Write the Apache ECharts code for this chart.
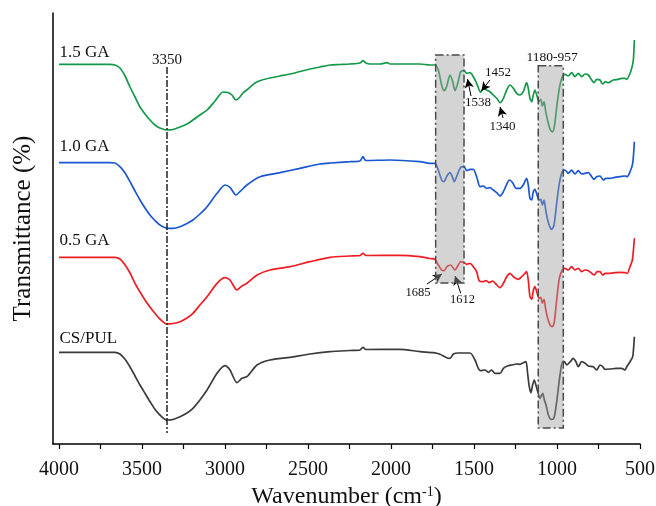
<!DOCTYPE html>
<html>
<head>
<meta charset="utf-8">
<script src="https://cdn.jsdelivr.net/npm/echarts@6/dist/echarts.min.js"></script>
<style>
  html, body { margin: 0; padding: 0; background: #fff; }
  #chart { width: 656px; height: 506px; }
</style>
</head>
<body>
<div id="chart"></div>
<script>
// FTIR spectra, wavenumber (cm-1) vs transmittance (offset, arbitrary units)
var wnCS = [4000,3663,3633,3602,3572,3542,3512,3482,3452,3422,3392,3350,3313,3271,3229,3193,3151,3108,3048,3000,
    2970,2928,2898,2868,2807,2729,2608,2488,2367,2247,2187,2169,2151,1946,1825,
    1745,1705,1665,1645,1624,1594,1524,1494,1474,1460,1434,1414,1394,1374,1343,1323,1299,1273,1243,1223,
    1203,1187,1177,1167,1157,1147,1137,1127,1116,1102,1086,1076,1066,1052,1036,1022,1012,998,982,966,
    956,941,920,902,886,872,851,831,811,781,761,741,725,711,681,641,611,590,580,560,544,534];
var tCS = [91.7,91.7,90,84.7,77,68,59,50.7,42.5,34.7,29,24,24.5,27.3,31,35.7,44,54,70.7,78.3,
    74,61.3,65.7,67.3,79,84,86.7,90,92.3,93.5,94,96.7,94.5,94.7,92.3,
    91.3,89.7,86.3,85.7,90,91,91,84,75.7,73.3,74,71.7,74,70.7,70.7,75.7,78,79,80,79.7,
    81.3,82.3,70.7,57.3,51.3,59,64,59,52.3,45.7,50.7,44,39,29,24.7,25,30.7,47.3,69,82.3,
    82.3,79,82.3,85.7,82.3,77.3,82.3,80.7,78,77.3,74,79,77.3,74.7,75,75.7,75.7,74,77.3,82.3,87.3,107.3];

var wn05 = [4000,3663,3633,3602,3572,3542,3512,3482,3452,3422,3392,3350,3313,3271,3229,3193,3151,3108,3048,3000,
    2970,2928,2898,2868,2807,2729,2608,2488,2367,2247,2187,2169,2151,1946,1825,1765,
    1735,1715,1695,1681,1663,1641,1624,1614,1598,1580,1560,1544,1524,1504,1484,1469,1448,1428,1408,1388,
    1368,1343,1323,1303,1283,1259,1233,1213,1193,1183,1173,1163,1152,1143,1133,1122,1108,1098,1088,1078,
    1068,1056,1042,1028,1016,1002,986,968,952,932,912,892,872,851,831,811,791,777,757,741,
    725,709,681,651,620,590,577,560,546,534];
var t05 = [186.7,186.7,185,179,171,160.7,152,144,137,130.7,125,120,120.5,122.3,126,130.7,139,147.3,160.7,166.3,
    164,154,158,160.7,169,174,177.3,182.3,186.7,188,188.5,190.7,188.5,188.7,187.3,185.5,
    184.7,179,174,173.3,177.3,179,175.7,174,178,182.3,181.3,179.7,180.7,177.3,172.3,163.3,162.3,163.3,161.3,163,
    160,156.3,160.7,167.3,170.7,166.7,164.7,167.3,170.7,172.3,164,147.3,144.7,153.3,157.3,152.3,145.7,146.7,140.7,144.7,
    134.7,125.7,119,117.3,122.3,144,165.7,174,175.7,174,177.3,174,175.7,172.3,174,173.3,170.7,169,172.3,172.3,
    169,170.7,170.7,171.3,171.7,171.3,170.7,177.3,184,205.7];

var wn10 = [4000,3693,3663,3633,3602,3572,3542,3512,3482,3452,3422,3392,3343,3313,3271,3229,3193,3151,3108,3048,
    3000,2970,2934,2910,2868,2789,2669,2548,2428,2367,2247,2187,2169,2151,2006,1825,1765,
    1735,1715,1695,1681,1663,1645,1631,1619,1601,1580,1560,1544,1524,1504,1484,1464,1444,1424,1404,1384,
    1363,1343,1323,1303,1287,1267,1247,1223,1203,1183,1173,1163,1152,1143,1133,1122,1108,1098,1088,1078,
    1068,1056,1042,1032,1018,1002,986,968,952,932,912,892,872,851,831,811,791,777,761,741,
    721,705,681,651,620,590,577,560,544,534];
var t10 = [281.3,281.3,281,277.3,271,262.3,253,244,236,229,223.5,219,215.7,215.7,217.3,220.5,224,230,237.3,250.7,
    259,256.7,249,252.3,259,267.3,271.3,275.7,280,281,282.3,283,287.3,283.5,284,282.3,280.7,
    280.7,274,264,262.3,268,271.3,267.3,262.3,269,276.7,277.3,273.3,274.7,274.7,267.3,257.3,258,255.7,256.3,254,
    251.3,248,252.3,259.7,264,261.3,255.7,255.7,259,265.7,259,245.7,244,252.3,254.7,250,244,244.7,239,244,
    234,224,216.7,214.7,219,240.7,260.7,272.3,274,270.7,274,270,273.3,270,270.7,271.3,267.3,264.7,267.3,268,
    264,265.7,265.7,266.7,267.3,268,267.3,272.3,280.7,302.3];

var wn15 = [4000,3693,3663,3633,3602,3572,3542,3512,3482,3452,3422,3392,3350,3313,3271,3229,3193,3151,3108,3060,
    3012,2982,2958,2934,2910,2892,2861,2819,2777,2729,2669,2608,2548,2488,2428,2367,2307,2247,2187,2169,
    2151,2126,2066,2024,2006,1946,1886,1825,1765,
    1735,1715,1695,1681,1665,1645,1631,1614,1598,1580,1560,1544,1524,1504,1484,1460,1444,1424,1404,1384,
    1363,1343,1323,1303,1283,1263,1243,1223,1203,1183,1173,1163,1152,1143,1133,1122,1108,1098,1088,1078,
    1068,1056,1042,1028,1016,1002,986,968,952,932,912,892,872,851,831,811,791,777,761,741,
    725,709,691,661,631,611,590,580,564,550,540,534];
var t15 = [379.7,379.7,379,376,368,357,347,337,330,324,319,316,314,314.5,317,320,324,329,334,343,
    352,351.5,349,344,347,351,355,361,364,366,368,370,372.5,375,377,379,379.5,380,381,383.3,
    381,380,380,381.3,380,380,380,380,379,
    379,374,359,353.3,357.3,369,364,353.3,360.7,372.3,373.3,370.7,371.3,367.3,360.7,351.7,355.7,354,352.3,349,
    345.7,341.3,345.7,354,359,355.7,350.7,349,352.3,361.3,355.7,345.7,342.3,349,354,349,342.3,344.7,338,342.3,
    332.3,323.3,314.7,312,317.3,336.7,355.7,367.3,369.7,368,371.3,367.3,370.7,367.3,370,369,364,361.3,364.7,364,
    360,362.3,361.3,364,364.7,365.7,365.7,364.7,369,375.7,384,404];

var sampleNames = ['CS/PUL', '0.5 GA', '1.0 GA', '1.5 GA'];
var tickLabels = [4000, 3500, 3000, 2500, 2000, 1500, 1000, 500];
var tickMarks = [4000, 3750, 3500, 3250, 3000, 2750, 2500, 2250, 2000, 1750, 1500, 1250, 1000, 750, 500];

// annotations (in data coordinates)
var nameSpots = [[4000, 105], [4000, 203], [4000, 297], [4000, 391]];
var peakLabels = [
    {text: '3350', at: [3350, 384], size: 15},
    {text: '1452', at: [1355, 371], size: 13},
    {text: '1538', at: [1476, 341], size: 13},
    {text: '1340', at: [1328, 317], size: 13},
    {text: '1180-957', at: [1030, 386.5], size: 13.5},
    {text: '1685', at: [1837, 151.5], size: 12.5},
    {text: '1612', at: [1569, 144], size: 12.5}
];
var arrows = [
    [[1404, 364], [1455, 353]],
    [[1518, 348], [1539, 365]],
    [[1325, 326], [1343, 337]],
    [[1783, 160], [1693, 170]],
    [[1580, 150.7], [1614, 168]]
];
var boxes = [
    [[1731, 389], [1560, 161]],
    [[1113, 378.3], [962, 16]]
];
var guide3350 = [[3350, 377], [3350, 11]];

var serif = "'Liberation Serif', 'Times New Roman', serif";
var colors = ['#3b3b3b', '#ee1d24', '#1a56d2', '#14994a'];
var wnList = [wnCS, wn05, wn10, wn15];
var tList = [tCS, t05, t10, t15];

function pairs(xs, ys) {
    return xs.map(function (x, i) { return [x, ys[i]]; });
}

var series = sampleNames.map(function (name, k) {
    return {
        name: name,
        type: 'line',
        data: pairs(wnList[k], tList[k]),
        showSymbol: false,
        smooth: 0.25,
        z: 2,
        lineStyle: {color: colors[k], width: 1.7},
        itemStyle: {color: colors[k]},
        markPoint: {
            symbol: 'circle',
            symbolSize: 1,
            itemStyle: {color: 'rgba(0,0,0,0)'},
            label: {
                show: true, position: 'right', distance: 0,
                color: '#111', fontFamily: serif, fontSize: 17,
                formatter: name
            },
            data: [{coord: nameSpots[k]}]
        }
    };
});

// overlay: guide line, arrows, labels, shaded boxes
series.push({
    type: 'line',
    data: [],
    z: 4,
    markLine: {
        silent: true,
        symbol: ['none', 'none'],
        label: {show: false},
        lineStyle: {color: '#222', width: 1.5, type: [7, 2, 2, 2]},
        data: [[{coord: guide3350[0]}, {coord: guide3350[1]}]]
    },
    markPoint: {
        symbol: 'circle',
        symbolSize: 1,
        itemStyle: {color: 'rgba(0,0,0,0)'},
        data: peakLabels.map(function (p) {
            return {
                coord: p.at,
                label: {
                    show: true, position: 'inside', color: '#111',
                    fontFamily: serif, fontSize: p.size, formatter: p.text
                }
            };
        })
    }
});
series.push({
    type: 'line',
    data: [],
    z: 5,
    markLine: {
        silent: true,
        symbol: ['none', 'arrow'],
        symbolSize: [7, 9],
        label: {show: false},
        lineStyle: {color: '#000', width: 1, type: 'solid'},
        data: arrows.map(function (a) { return [{coord: a[0]}, {coord: a[1]}]; })
    }
});
series.push({
    type: 'line',
    data: [],
    z: 10,
    markArea: {
        silent: true,
        z: 10,
        itemStyle: {
            color: 'rgba(160,160,160,0.45)',
            borderColor: '#4a4a4a',
            borderWidth: 1.5,
            borderType: [8, 3, 2, 3]
        },
        data: boxes.map(function (b) { return [{coord: b[0]}, {coord: b[1]}]; })
    }
});

var option = {
    animation: false,
    backgroundColor: '#fff',
    grid: {left: 53, right: 16, top: 13, bottom: 62, containLabel: false, outerBoundsMode: 'none'},
    xAxis: {
        type: 'value',
        inverse: true,
        min: 500,
        max: 4036,
        name: 'Wavenumber (cm{sup|-1})',
        nameLocation: 'middle',
        nameGap: 38,
        nameTextStyle: {
            color: '#111', fontFamily: serif, fontSize: 24,
            rich: {sup: {fontFamily: serif, fontSize: 14, verticalAlign: 'top', color: '#111'}}
        },
        axisLine: {show: true, lineStyle: {color: '#000', width: 1.5}},
        axisTick: {show: true, length: 5, lineStyle: {color: '#000', width: 1.2}, customValues: tickMarks},
        axisLabel: {
            color: '#111', fontFamily: serif, fontSize: 20, margin: 16, customValues: tickLabels,
            formatter: function (v) { return String(v); }
        },
        splitLine: {show: false}
    },
    yAxis: {
        type: 'value',
        min: 0,
        max: 431,
        name: 'Transmittance (%)',
        nameLocation: 'middle',
        nameGap: 17,
        nameTextStyle: {color: '#111', fontFamily: serif, fontSize: 25},
        axisLine: {show: true, lineStyle: {color: '#000', width: 1.5}},
        axisTick: {show: false},
        axisLabel: {show: false},
        splitLine: {show: false}
    },
    series: series
};

var myChart = echarts.init(document.getElementById('chart'));
myChart.setOption(option);
</script>
</body>
</html>
